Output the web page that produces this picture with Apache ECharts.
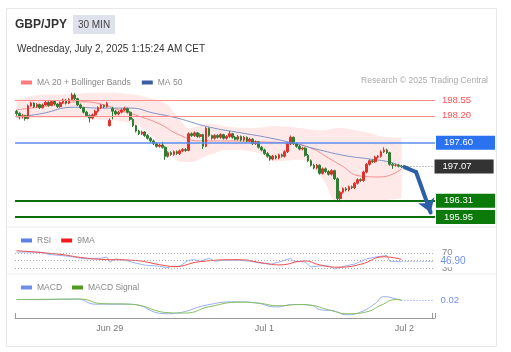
<!DOCTYPE html>
<html>
<head>
<meta charset="utf-8">
<script src="https://cdn.jsdelivr.net/npm/echarts@6/dist/echarts.min.js"></script>
<style>
html,body{margin:0;padding:0;background:#fff;}
#chart{width:511px;height:352px;}
</style>
</head>
<body>
<div id="chart"></div>
<script>
// x slots (30 min candles + empty room on the right for the projection)
var slots = 144;
var labelIdx = [32, 85, 133];
var labelText = ['Jun 29', 'Jul 1', 'Jul 2'];

// [open, close, low, high]
var candles = [
    [198.30,198.25,198.20,198.33],[198.25,198.18,198.12,198.28],[198.18,198.20,198.14,198.24],[198.20,198.14,198.09,198.22],
    [198.14,198.42,198.12,198.45],[198.42,198.48,198.40,198.51],[198.48,198.40,198.37,198.50],[198.40,198.45,198.38,198.48],
    [198.45,198.38,198.35,198.47],[198.38,198.44,198.36,198.47],[198.44,198.50,198.42,198.54],[198.50,198.43,198.40,198.52],
    [198.43,198.52,198.41,198.55],[198.52,198.46,198.43,198.54],[198.46,198.40,198.37,198.48],[198.40,198.49,198.38,198.52],
    [198.49,198.55,198.46,198.58],[198.55,198.48,198.45,198.57],[198.48,198.56,198.46,198.59],[198.56,198.66,198.54,198.71],
    [198.66,198.58,198.55,198.70],[198.58,198.44,198.42,198.60],[198.44,198.38,198.35,198.47],[198.38,198.28,198.25,198.40],
    [198.28,198.20,198.17,198.31],[198.20,198.15,198.05,198.23],[198.15,198.22,198.12,198.25],[198.22,198.30,198.19,198.33],
    [198.30,198.38,198.27,198.41],[198.38,198.43,198.35,198.46],[198.43,198.40,198.37,198.45],[198.40,198.47,198.38,198.51],
    [197.98,198.10,197.96,198.14],[198.36,198.30,198.12,198.40],[198.30,198.24,198.21,198.33],[198.24,198.28,198.21,198.31],
    [198.28,198.33,198.25,198.36],[198.33,198.36,198.30,198.40],[198.36,198.28,198.25,198.38],[198.28,198.12,198.09,198.30],
    [198.12,197.98,197.95,198.14],[197.98,197.86,197.83,198.00],[197.86,197.80,197.77,197.89],[197.80,197.84,197.77,197.87],
    [197.84,197.76,197.73,197.86],[197.76,197.70,197.67,197.79],[197.70,197.64,197.61,197.73],[197.64,197.58,197.55,197.67],
    [197.58,197.52,197.49,197.61],[197.52,197.55,197.49,197.58],[197.55,197.50,197.47,197.62],[197.50,197.30,197.22,197.52],
    [197.30,197.38,197.27,197.41],[197.38,197.34,197.31,197.41],[197.34,197.40,197.31,197.43],[197.40,197.36,197.33,197.43],
    [197.36,197.42,197.33,197.45],[197.42,197.45,197.39,197.48],[197.45,197.43,197.40,197.48],[197.43,197.80,197.41,197.83],
    [197.80,197.76,197.73,197.83],[197.76,197.82,197.73,197.85],[197.82,197.74,197.71,197.84],[197.74,197.78,197.71,197.81],
    [197.78,197.52,197.46,197.80],[197.52,197.92,197.50,197.95],[197.92,197.76,197.73,197.94],[197.76,197.70,197.67,197.78],
    [197.70,197.76,197.67,197.79],[197.76,197.72,197.69,197.79],[197.72,197.78,197.69,197.81],[197.78,197.70,197.67,197.80],
    [197.70,197.74,197.67,197.77],[197.74,197.80,197.71,197.86],[197.80,197.72,197.69,197.82],[197.72,197.68,197.65,197.75],
    [197.68,197.74,197.65,197.77],[197.74,197.66,197.63,197.76],[197.66,197.72,197.63,197.75],[197.72,197.64,197.61,197.74],
    [197.64,197.68,197.61,197.71],[197.68,197.58,197.55,197.70],[197.58,197.62,197.55,197.65],[197.62,197.50,197.47,197.64],
    [197.50,197.44,197.41,197.53],[197.44,197.36,197.33,197.47],[197.36,197.30,197.27,197.39],[197.30,197.24,197.20,197.33],
    [197.24,197.30,197.21,197.33],[197.30,197.26,197.23,197.33],[197.26,197.33,197.23,197.36],[197.33,197.30,197.27,197.36],
    [197.30,197.40,197.27,197.43],[197.40,197.58,197.37,197.61],[197.58,197.72,197.55,197.76],[197.72,197.58,197.55,197.74],
    [197.58,197.52,197.49,197.61],[197.52,197.46,197.43,197.55],[197.46,197.48,197.43,197.51],[197.48,197.32,197.29,197.50],
    [197.32,197.20,197.17,197.35],[197.20,197.10,197.07,197.23],[197.10,197.04,197.01,197.13],[197.04,197.10,197.01,197.13],
    [197.10,196.92,196.89,197.12],[196.92,197.02,196.89,197.05],[197.02,196.96,196.93,197.05],[196.96,196.90,196.87,196.99],
    [196.90,196.98,196.87,197.01],[196.98,196.80,196.77,197.00],[196.80,196.36,196.28,196.83],[196.36,196.50,196.28,196.53],
    [196.50,196.58,196.47,196.61],[196.58,196.55,196.52,196.61],[196.55,196.62,196.52,196.65],[196.62,196.60,196.57,196.65],
    [196.60,196.70,196.57,196.73],[196.70,196.78,196.67,196.81],[196.78,196.76,196.73,196.81],[196.76,196.95,196.73,196.98],
    [196.95,197.12,196.92,197.15],[197.12,197.20,197.09,197.23],[197.20,197.18,197.15,197.23],[197.18,197.28,197.15,197.31],
    [197.28,197.30,197.25,197.33],[197.30,197.40,197.27,197.43],[197.40,197.44,197.37,197.50],[197.44,197.38,197.35,197.47],
    [197.38,197.12,197.09,197.40],[197.12,197.10,197.02,197.15],[197.10,197.10,197.07,197.13],[197.10,197.08,197.05,197.13],
    [197.08,197.07,197.04,197.11]
];

// bollinger bands, read at a few candles
var bandIdx   = [0, 8, 17, 29, 39, 46, 51, 54, 57, 59, 66, 73, 82, 89, 97, 104, 111, 116, 121, 126, 132];
var bandUpper = [198.55,198.66,198.68,198.71,198.68,198.59,198.48,198.28,198.04,197.93,198.02,197.95,197.93,197.97,197.93,197.88,197.93,197.88,197.82,197.73,197.71];
var bandLower = [198.11,198.15,198.15,198.11,198.04,197.77,197.44,197.26,197.17,197.17,197.33,197.44,197.39,197.19,197.22,196.88,196.28,196.31,196.33,196.33,196.37];

var ma20 = [[0,198.33],[11,198.42],[22,198.51],[29,198.46],[35,198.33],[42,198.19],[49,198.02],[56,197.77],[63,197.64],
    [73,197.64],[83,197.62],[94,197.59],[101,197.48],[107,197.26],[111,197.11],[118,196.86],[125,196.84],[132,197.02]];
var ma50 = [[0,198.17],[8,198.24],[20,198.39],[29,198.37],[39,198.37],[47,198.26],[55,198.15],[66,197.95],[77,197.82],
    [85,197.73],[95,197.59],[104,197.44],[113,197.31],[121,197.24],[128,197.17],[132,197.08]];

var rsi = [[0,72],[8,72],[11,66],[18,61],[22,56],[25,54],[29,56],[31,59],[32,46],[34,54],[37,51],[41,43],[44,38],[49,35],
    [52,31],[53,35],[56,35],[59,51],[61,52],[63,48],[66,56],[68,48],[71,51],[76,51],[80,48],[83,44],[87,40],[90,46],[94,56],
    [95,48],[99,46],[101,33],[104,36],[107,36],[109,28],[113,36],[116,41],[120,54],[123,59],[127,63],[128,48],[130,47.4],[132,46.9]];
var rsiMa = [[0,75.6],[15,66],[22,58],[29,53],[39,51],[51,36.7],[54,34],[63,47],[76,52],[85,43],[90,38.5],[99,48.7],
    [104,38.5],[110,32.6],[118,40],[126,59.7],[132,53]];
var rsiLevels = [70, 50, 30];
var rsiLast = 46.90;

var macd = [[0,0.028],[8,0.026],[21,0.032],[27,-0.028],[39,-0.028],[51,-0.14],[55,-0.132],[65,-0.04],[75,0.0],[82,-0.012],
    [89,-0.06],[95,-0.032],[101,-0.04],[104,-0.092],[109,-0.108],[113,-0.152],[118,-0.12],[123,-0.02],[126,0.06],[131,0.028],[132,0.02]];
var macdSignal = [[0,0.026],[22,0.032],[29,-0.02],[39,-0.028],[53,-0.13],[58,-0.132],[66,-0.058],[77,-0.004],[83,-0.016],
    [90,-0.046],[97,-0.032],[102,-0.046],[107,-0.094],[114,-0.14],[120,-0.118],[125,-0.04],[130,0.026],[132,0.022]];
var macdLast = 0.02;

var redLevels = [198.55, 198.20];
var resistance = 197.60;
var lastPrice = 197.07;
var supports = [196.31, 195.95];
var arrowPath = [[133, 197.06], [137, 196.95], [142, 196.05]];

var cats = [];
for (var i = 0; i < slots; i++) cats.push(String(i));

var bandLow = [], bandWidth = [];
for (var i = 0; i < bandIdx.length; i++) {
    bandLow.push([bandIdx[i], bandLower[i]]);
    bandWidth.push([bandIdx[i], +(bandUpper[i] - bandLower[i]).toFixed(3)]);
}

var font = '"Liberation Sans", Arial, sans-serif';
var lastIdx = candles.length - 1;

function tag(txt, bg) {
    return {show: true, position: 'end', formatter: txt, color: '#fff', fontSize: 9.5, backgroundColor: bg,
        padding: [2, 22, 2, 8], distance: 1};
}
function plain(txt, col) {
    return {show: true, position: 'end', formatter: txt, color: col, fontSize: 9.5, distance: 7};
}

var levelLines = [];
for (var i = 0; i < redLevels.length; i++) {
    levelLines.push({yAxis: redLevels[i], lineStyle: {color: '#ff8c8c', width: 1, type: 'solid'},
        label: plain(redLevels[i].toFixed(2), '#ff5050')});
}
levelLines.push({yAxis: resistance, lineStyle: {color: '#5b8ef2', width: 1.5, type: 'solid'},
    label: tag(resistance.toFixed(2), '#2a72f0')});
for (var i = 0; i < supports.length; i++) {
    levelLines.push({yAxis: supports[i], lineStyle: {color: '#0c6e0c', width: 2, type: 'solid'},
        label: tag(supports[i].toFixed(2), '#0b7a0b')});
}
levelLines.push([
    {coord: [lastIdx, lastPrice], lineStyle: {color: '#888', width: 1, type: [1, 2]}, label: tag(lastPrice.toFixed(2), '#333')},
    {coord: [slots - 1, lastPrice]}
]);
levelLines.push([
    {coord: arrowPath[0], symbol: 'none', lineStyle: {color: '#2d5fa8', width: 4, type: 'solid', cap: 'round'}, label: {show: false}},
    {coord: arrowPath[1], symbol: 'none'}
]);
levelLines.push([
    {coord: arrowPath[1], symbol: 'none', lineStyle: {color: '#2d5fa8', width: 4, type: 'solid', cap: 'round'}, label: {show: false}},
    {coord: arrowPath[2], symbol: 'arrow', symbolSize: 13}
]);

var rsiLines = [];
for (var i = 0; i < rsiLevels.length; i++) {
    rsiLines.push({yAxis: rsiLevels[i], lineStyle: {color: '#aaa', width: 1, type: [1, 2]},
        label: rsiLevels[i] == 50 ? {show: false} : plain(String(rsiLevels[i]), '#888')});
}
rsiLines.push([
    {coord: [lastIdx, rsiLast], lineStyle: {color: '#7c9cf0', width: 1, type: [1, 2]},
        label: {show: true, position: 'end', formatter: rsiLast.toFixed(2), color: '#6f90ee', fontSize: 10, distance: 7,
            backgroundColor: '#fff', padding: [0, 0, 1, 0]}},
    {coord: [slots - 1, rsiLast]}
]);

var chart = echarts.init(document.getElementById('chart'));
chart.setOption({
    animation: false,
    textStyle: {fontFamily: font},
    graphic: [
        {type: 'rect', shape: {x: 6.5, y: 8.5, width: 490, height: 338}, style: {fill: 'none', stroke: '#e8e8e8'}},
        {type: 'line', shape: {x1: 7, y1: 227, x2: 496, y2: 227}, style: {stroke: '#ececec'}},
        {type: 'line', shape: {x1: 7, y1: 274, x2: 496, y2: 274}, style: {stroke: '#ececec'}},
        {type: 'text', x: 15, y: 25, style: {text: 'GBP/JPY', fill: '#333', fontSize: 12, fontWeight: 'bold', fontFamily: font, verticalAlign: 'middle'}},
        {type: 'rect', shape: {x: 73, y: 15, width: 42, height: 19}, style: {fill: '#dde2ec'}},
        {type: 'text', x: 94, y: 25, style: {text: '30 MIN', fill: '#444', fontSize: 10, fontFamily: font, align: 'center', verticalAlign: 'middle'}},
        {type: 'text', x: 17, y: 49, style: {text: 'Wednesday, July 2, 2025 1:15:24 AM CET', fill: '#333', fontSize: 10, fontFamily: font, verticalAlign: 'middle'}},
        {type: 'text', x: 488, y: 81, style: {text: 'Research \u00a9 2025 Trading Central', fill: '#aaa', fontSize: 8.5, fontFamily: font, align: 'right', verticalAlign: 'middle'}}
    ],
    legend: [
        {left: 16, top: 73, icon: 'rect', itemWidth: 11, itemHeight: 4, itemGap: 11,
            textStyle: {color: '#888', fontSize: 8.5},
            data: [{name: 'MA 20 + Bollinger Bands', itemStyle: {color: '#ff7a7a'}}, {name: 'MA 50', itemStyle: {color: '#3b5ea3'}}]},
        {left: 16, top: 231, icon: 'rect', itemWidth: 11, itemHeight: 4, itemGap: 10,
            textStyle: {color: '#888', fontSize: 8.5},
            data: [{name: 'RSI', itemStyle: {color: '#5b80e6'}}, {name: '9MA', itemStyle: {color: '#f01c1c'}}]},
        {left: 16, top: 278, icon: 'rect', itemWidth: 11, itemHeight: 4, itemGap: 10,
            textStyle: {color: '#888', fontSize: 8.5},
            data: [{name: 'MACD', itemStyle: {color: '#6f8fe8'}}, {name: 'MACD Signal', itemStyle: {color: '#4f9a22'}}]}
    ],
    grid: [
        {left: 15, right: 76, top: 88.75, height: 132.75},
        {left: 15, right: 76, top: 249, height: 23},
        {left: 15, right: 76, top: 295, height: 23}
    ],
    xAxis: [
        {type: 'category', gridIndex: 0, data: cats, show: false},
        {type: 'category', gridIndex: 1, data: cats, show: false},
        {type: 'category', gridIndex: 2, data: cats,
            axisLine: {onZero: false, lineStyle: {color: '#999'}},
            axisTick: {show: true, inside: true, length: 5, lineStyle: {color: '#999'},
                interval: function (i) { return i === 0 || i === slots - 1; }},
            axisLabel: {color: '#777', fontSize: 9, margin: 6,
                interval: function (i) { return labelIdx.indexOf(i) >= 0; },
                formatter: function (v, i) { return labelText[labelIdx.indexOf(i)]; }}}
    ],
    yAxis: [
        {type: 'value', gridIndex: 0, min: 195.85, max: 198.8, show: false, splitLine: {show: false}},
        {type: 'value', gridIndex: 1, min: 20, max: 80, show: false, splitLine: {show: false}},
        {type: 'value', gridIndex: 2, min: -0.19, max: 0.08, show: false, splitLine: {show: false}}
    ],
    series: [
        {name: 'bbLow', type: 'line', stack: 'bb', smooth: true, symbol: 'none', data: bandLow,
            lineStyle: {opacity: 0}, z: 1, silent: true},
        {name: 'bbUp', type: 'line', stack: 'bb', smooth: true, symbol: 'none', data: bandWidth,
            lineStyle: {opacity: 0}, areaStyle: {color: 'rgba(255,125,125,0.26)'}, z: 1, silent: true},
        {name: 'MA 20 + Bollinger Bands', type: 'line', smooth: true, symbol: 'none', data: ma20,
            lineStyle: {color: '#f39090', width: 1}, itemStyle: {color: '#ff7a7a'}, z: 2},
        {name: 'MA 50', type: 'line', smooth: true, symbol: 'none', data: ma50,
            lineStyle: {color: '#7d93c6', width: 1}, itemStyle: {color: '#3b5ea3'}, z: 2},
        {name: 'candles', type: 'candlestick', data: candles, barWidth: '75%', z: 4,
            itemStyle: {color: '#e0302c', color0: '#2e7d32', borderColor: '#e0302c', borderColor0: '#2e7d32', borderWidth: 1},
            markLine: {silent: true, symbol: ['none', 'none'], animation: false, data: levelLines}},
        {name: 'RSI', type: 'line', xAxisIndex: 1, yAxisIndex: 1, symbol: 'none', data: rsi,
            lineStyle: {color: '#9db2f2', width: 1}, itemStyle: {color: '#5b80e6'},
            markLine: {silent: true, symbol: ['none', 'none'], animation: false, data: rsiLines}},
        {name: '9MA', type: 'line', xAxisIndex: 1, yAxisIndex: 1, smooth: true, symbol: 'none', data: rsiMa,
            lineStyle: {color: '#f24a4a', width: 1}, itemStyle: {color: '#f01c1c'}},
        {name: 'MACD', type: 'line', xAxisIndex: 2, yAxisIndex: 2, smooth: true, symbol: 'none', data: macd,
            lineStyle: {color: '#97acf0', width: 1}, itemStyle: {color: '#6f8fe8'},
            markLine: {silent: true, symbol: ['none', 'none'], animation: false, data: [[
                {coord: [lastIdx, macdLast], lineStyle: {color: '#7c9cf0', width: 1, type: [1, 2]},
                    label: plain(macdLast.toFixed(2), '#6f90ee')},
                {coord: [slots - 1, macdLast]}
            ]]}},
        {name: 'MACD Signal', type: 'line', xAxisIndex: 2, yAxisIndex: 2, smooth: true, symbol: 'none', data: macdSignal,
            lineStyle: {color: '#86bf5e', width: 1}, itemStyle: {color: '#4f9a22'}}
    ]
});
window.addEventListener('resize', function () { chart.resize(); });
</script>
</body>
</html>
